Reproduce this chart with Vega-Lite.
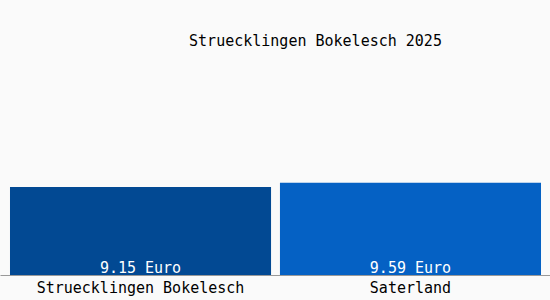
{
  "$schema": "https://vega.github.io/schema/vega-lite/v6.json",
  "width": 551,
  "height": 250,
  "autosize": {"type": "none"},
  "padding": {"left": 0, "top": 25, "right": 0, "bottom": 25},
  "background": "#fafafa",
  "title": {
    "text": "Struecklingen Bokelesch 2025",
    "font": "DejaVu Sans Mono",
    "fontSize": 15,
    "fontWeight": "normal",
    "color": "#000000",
    "anchor": "middle",
    "dx": 40,
    "offset": -36,
    "baseline": "alphabetic"
  },
  "data": {
    "values": [
      {"ort": "Struecklingen Bokelesch", "preis": 9.15, "label": "9.15 Euro"},
      {"ort": "Saterland", "preis": 9.59, "label": "9.59 Euro"}
    ]
  },
  "encoding": {
    "x": {
      "field": "ort",
      "type": "nominal",
      "sort": null,
      "scale": {"paddingInner": 0.033, "paddingOuter": 0.037},
      "axis": {
        "title": null,
        "labelAngle": 0,
        "labelFont": "DejaVu Sans Mono",
        "labelFontSize": 15,
        "labelColor": "#000000",
        "labelLimit": 0,
        "ticks": false,
        "labelPadding": 5,
        "domainColor": "#999999",
        "domainWidth": 1
      }
    }
  },
  "layer": [
    {
      "mark": {"type": "bar"},
      "encoding": {
        "y": {"field": "preis", "type": "quantitative", "scale": {"domain": [0, 24.5]}, "axis": null},
        "color": {
          "field": "ort",
          "type": "nominal",
          "sort": null,
          "scale": {"range": ["#024993", "#0561c4"]},
          "legend": null
        }
      }
    },
    {
      "mark": {"type": "text", "baseline": "alphabetic", "dy": -2, "font": "DejaVu Sans Mono", "fontSize": 15, "color": "#ffffff"},
      "encoding": {
        "y": {"datum": 0, "type": "quantitative"},
        "text": {"field": "label"}
      }
    }
  ],
  "config": {"view": {"stroke": null}}
}
